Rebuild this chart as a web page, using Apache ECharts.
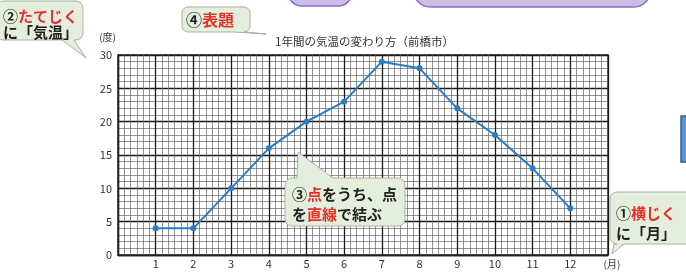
<!DOCTYPE html>
<html>
<head>
<meta charset="utf-8">
<script src="https://cdn.jsdelivr.net/npm/echarts@6/dist/echarts.min.js"></script>
<style>
  html, body { margin: 0; padding: 0; background: #fff; }
  #chart { width: 686px; height: 273px; }
</style>
</head>
<body>
<div id="chart"></div>
<script>
// 1年間の気温の変わり方（前橋市）
const months = [1, 2, 3, 4, 5, 6, 7, 8, 9, 10, 11, 12]
const temps = [4, 4, 10, 16, 20, 23, 29, 28, 22, 18, 13, 7]
const yTicks = [0, 5, 10, 15, 20, 25, 30]

const FONT = '"Noto Sans CJK JP", "Noto Sans", sans-serif'
const RED = '#e3312c'
const INK = '#222'

// 角の丸め用の点
function corner(cx, cy, r, a0) {
  const pts = []
  for (let k = 0; k <= 4; k++) {
    const a = (a0 + k * 22.5) * Math.PI / 180
    pts.push([cx + r * Math.cos(a), cy + r * Math.sin(a)])
  }
  return pts
}

// 角丸の吹き出し (tail は辺の a〜b から tip へ)
function bubblePoints(x, y, w, h, r, edge, a, b, tx, ty) {
  let pts = []
  pts = pts.concat(corner(x + r, y + r, r, 180))
  if (edge === 'top') pts.push([x + a, y], [tx, ty], [x + b, y])
  pts = pts.concat(corner(x + w - r, y + r, r, 270))
  pts = pts.concat(corner(x + w - r, y + h - r, r, 0))
  if (edge === 'bottom') pts.push([x + b, y + h], [tx, ty], [x + a, y + h])
  pts = pts.concat(corner(x + r, y + h - r, r, 90))
  return pts
}

function bubble(points, texts) {
  const children = [{
    type: 'polygon',
    z: 100,
    shape: { points: points },
    style: { fill: '#e4eedc', stroke: '#a9b0a6', lineWidth: 1 }
  }]
  texts.forEach((t) => {
    children.push({
      type: 'text',
      z: 101,
      x: t.x,
      y: t.y,
      style: {
        text: t.text,
        font: `bold ${t.size || 15}px ${FONT}`,
        fill: INK,
        verticalAlign: 'middle',
        rich: {
          r: { fill: RED, font: `bold ${t.size || 15}px ${FONT}` }
        }
      }
    })
  })
  return { type: 'group', z: 100, children: children }
}

const chart = echarts.init(document.getElementById('chart'))

const option = {
  backgroundColor: '#fff',
  animation: false,
  title: {
    text: '1年間の気温の変わり方（前橋市）',
    left: 270,
    top: 31,
    textStyle: { fontFamily: FONT, fontSize: 11.5, fontWeight: 'normal', color: '#333' }
  },
  grid: {
    left: 118,
    top: 55,
    right: 78,
    bottom: 18,
    show: true,
    borderColor: '#222',
    borderWidth: 1.4,
    backgroundColor: 'transparent'
  },
  xAxis: {
    type: 'value',
    min: 0,
    max: 13,
    interval: 1,
    name: '(月)',
    nameLocation: 'end',
    nameGap: 4,
    nameTextStyle: {
      fontFamily: FONT, fontSize: 10, color: '#333',
      align: 'center', verticalAlign: 'top', padding: [4, 0, 0, 0]
    },
    axisLine: { show: true, lineStyle: { color: '#222', width: 1.4 } },
    axisTick: { show: false },
    axisLabel: {
      fontFamily: FONT, fontSize: 11, color: '#333', margin: 3,
      formatter: (v) => (months.indexOf(v) >= 0 ? String(v) : '')
    },
    splitLine: { show: true, lineStyle: { color: '#1a1a1a', width: 1.3 } },
    minorTick: { show: false, splitNumber: 6 },
    minorSplitLine: { show: true, lineStyle: { color: '#666', width: 0.7 } }
  },
  yAxis: {
    type: 'value',
    min: yTicks[0],
    max: yTicks[yTicks.length - 1],
    interval: 5,
    name: '(度)',
    nameLocation: 'end',
    nameGap: 13,
    nameTextStyle: { fontFamily: FONT, fontSize: 10, color: '#333', align: 'right', padding: [0, 2, 0, 0] },
    axisLine: { show: true, lineStyle: { color: '#222', width: 1.4 } },
    axisTick: { show: false },
    axisLabel: { fontFamily: FONT, fontSize: 11, color: '#333', margin: 6 },
    splitLine: { show: true, lineStyle: { color: '#1a1a1a', width: 1.3 } },
    minorTick: { show: false, splitNumber: 5 },
    minorSplitLine: { show: true, lineStyle: { color: '#666', width: 0.7 } }
  },
  series: [
    {
      type: 'line',
      data: months.map((m, i) => [m, temps[i]]),
      symbol: 'circle',
      symbolSize: 6,
      lineStyle: { color: '#2b7cc3', width: 2 },
      itemStyle: { color: '#2b7cc3' },
      z: 5
    }
  ],
  graphic: [
    // 上の紫の枠 (切れている)
    {
      type: 'rect',
      shape: { x: 288, y: -30, width: 64, height: 36, r: 14 },
      style: { fill: '#cbbde6', stroke: '#8c6dc0', lineWidth: 1.5 }
    },
    {
      type: 'rect',
      shape: { x: 414, y: -30, width: 236, height: 37, r: 16 },
      style: { fill: '#cbbde6', stroke: '#8c6dc0', lineWidth: 1.5 }
    },
    // 右端の青い枠
    {
      type: 'rect',
      shape: { x: 681, y: 116, width: 10, height: 46 },
      style: { fill: '#5a93cf', stroke: '#2f5f95', lineWidth: 1.5 }
    },
    bubble(bubblePoints(-4, 1, 87, 39, 7, 'bottom', 66, 78, 86, 58), [
      { x: 3, y: 16, text: '②{r|たてじく}' },
      { x: 3, y: 32, text: 'に「気温」' }
    ]),
    bubble(bubblePoints(182, 7, 68, 25, 6, 'bottom', 52, 64, 266, 34), [
      { x: 186, y: 20, text: '④{r|表題}', size: 16 }
    ]),
    bubble(bubblePoints(285, 178, 120, 48, 7, 'top', 12, 48, 298, 152), [
      { x: 292, y: 194, text: '③{r|点}をうち、点' },
      { x: 292, y: 214, text: 'を{r|直線}で結ぶ' }
    ]),
    bubble(bubblePoints(610, 192, 90, 52, 7, 'bottom', 4, 14, 612, 254), [
      { x: 616, y: 213, text: '①{r|横じく}' },
      { x: 616, y: 233, text: 'に「月」' }
    ])
  ]
}

chart.setOption(option)
</script>
</body>
</html>
